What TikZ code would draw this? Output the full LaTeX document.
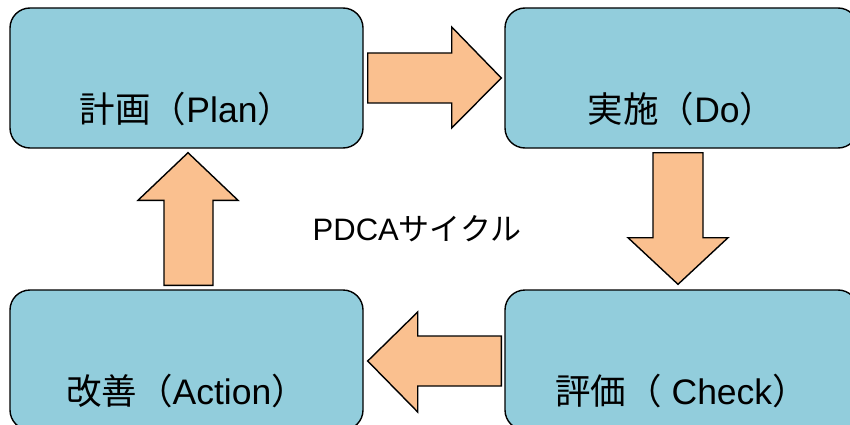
\documentclass[tikz,border=0pt]{standalone}
\usepackage{fontspec}
\setmainfont{Liberation Sans}
\newfontfamily\cjk{Noto Sans CJK JP}
\usetikzlibrary{calc}
\definecolor{boxblue}{RGB}{146,205,220}
\definecolor{arroworange}{RGB}{250,192,143}
\begin{document}
\begin{tikzpicture}[x=1pt,y=-1pt,
  stage/.style={draw=black, line width=1.4pt, fill=boxblue, rounded corners=20pt,
    minimum width=353pt, minimum height=140pt, inner sep=0pt},
  stagelabel/.style={font=\fontsize{35.5}{40}\selectfont, inner sep=0pt},
  blockarrow/.style={draw=black, line width=1.4pt, fill=arroworange, line join=miter}]
\useasboundingbox (0,0) rectangle (850,425);
\clip (0,0) rectangle (850,425);

\node[stage] (plan)  at (186.5,78)  {};
\node[stage] (do)    at (681.5,78)  {};
\node[stage] (check) at (681.5,360) {};
\node[stage] (act)   at (186.5,360) {};

\node[stagelabel] (planlabel)  at ([yshift=-31pt]plan.center)  {{\cjk 計画（}Plan{\cjk ）}};
\node[stagelabel] (dolabel)    at ([yshift=-31pt]do.center)    {{\cjk 実施（}Do{\cjk ）}};
\node[stagelabel] (checklabel) at ([yshift=-31pt]check.center) {{\cjk 評価（} Check{\cjk ）}};
\node[stagelabel] (actlabel)   at ([yshift=-31pt]act.center)   {{\cjk 改善（}Action{\cjk ）}};

\node[font=\fontsize{31}{36}\selectfont, inner sep=0pt] (cycle) at (417,229) {PDCA{\cjk サイクル}};

% Plan -> Do
\draw[blockarrow] ($(plan.east)+(4,-25)$) -- ($(plan.east)+(88,-25)$) -- ($(plan.east)+(88,-51)$)
  -- ($(do.west)+(-3,0)$) -- ($(plan.east)+(88,50)$) -- ($(plan.east)+(88,25)$)
  -- ($(plan.east)+(4,25)$) -- cycle;
% Do -> Check
\draw[blockarrow] ($(do.south)+(-28.5,4)$) -- ($(do.south)+(21.5,4)$) -- ($(do.south)+(21.5,89)$)
  -- ($(do.south)+(46.5,89)$) -- ($(check.north)+(-3.5,-5)$) -- ($(do.south)+(-53.5,89)$)
  -- ($(do.south)+(-28.5,89)$) -- cycle;
% Check -> Action
\draw[blockarrow] ($(check.west)+(-3,-24)$) -- ($(act.east)+(54,-24)$) -- ($(act.east)+(54,-48)$)
  -- ($(act.east)+(4,1)$) -- ($(act.east)+(54,52)$) -- ($(act.east)+(54,26)$)
  -- ($(check.west)+(-3,26)$) -- cycle;
% Action -> Plan
\draw[blockarrow] ($(act.north)+(-22.5,-4)$) -- ($(act.north)+(26.5,-4)$) -- ($(act.north)+(26.5,-89)$)
  -- ($(act.north)+(51.5,-89)$) -- ($(plan.south)+(1.5,4)$) -- ($(act.north)+(-48.5,-89)$)
  -- ($(act.north)+(-22.5,-89)$) -- cycle;
\end{tikzpicture}
\end{document}
